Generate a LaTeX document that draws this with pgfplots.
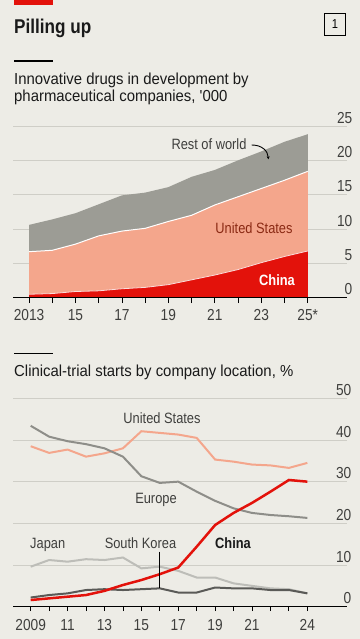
\documentclass[border=0pt]{standalone}
\usepackage{fontspec}
\setmainfont{Liberation Sans}[FakeStretch=0.86]
\newfontfamily\subfont{Liberation Sans}[FakeStretch=0.935]
\usepackage{pgfplots}
\pgfplotsset{compat=1.18}
\usepackage{pgfplotstable}
\usetikzlibrary{arrows.meta}
\definecolor{bg}{HTML}{EDECE6}
\definecolor{gridc}{HTML}{CFCEC7}
\definecolor{rowc}{HTML}{9C9C95}
\definecolor{usc}{HTML}{F4A68C}
\definecolor{chc}{HTML}{E3120B}
\definecolor{euc}{HTML}{8E8E89}
\definecolor{jpc}{HTML}{BDBDB8}
\definecolor{skc}{HTML}{5A5A57}
\definecolor{usdark}{HTML}{8B2A14}
\definecolor{labc}{HTML}{3F3F3D}
\definecolor{txt}{HTML}{1A1A1A}

\pgfplotstableread{
year china us total
2013 0.5 6.7 10.6
2014 0.6 6.9 11.4
2015 0.9 7.8 12.3
2016 1.0 9.0 13.6
2017 1.3 9.7 14.9
2018 1.5 10.1 15.3
2019 1.9 11.1 16.1
2020 2.6 12.0 17.6
2021 3.3 13.5 18.6
2022 4.1 14.7 20.0
2023 5.1 15.9 21.3
2024 6.0 17.1 22.7
2025 6.8 18.4 23.8
}\drugs

\pgfplotstableread{
year china us europe japan korea
2009 1.6 38.5 43.4 9.6 2.2
2010 2.0 36.9 40.8 11.2 2.8
2011 2.4 37.7 39.7 10.8 3.2
2012 2.8 36.0 39.0 11.4 4.0
2013 3.8 36.8 38.0 11.2 4.2
2014 5.2 38.0 36.0 11.8 4.0
2015 6.4 42.1 31.3 9.2 4.2
2016 7.8 41.7 29.7 9.6 4.4
2017 9.4 41.3 30.0 8.6 3.4
2018 14.4 40.5 27.6 7.0 3.4
2019 19.6 35.3 25.4 7.0 4.6
2020 22.5 34.8 23.6 5.6 4.4
2021 24.9 34.1 22.5 5.0 4.4
2022 27.6 33.9 22.0 4.4 4.0
2023 30.4 33.3 21.7 4.2 4.0
2024 30.0 34.5 21.3 3.2 3.2
}\trials

\begin{document}
\begin{tikzpicture}
\path[use as bounding box, fill=bg] (0,0) rectangle (360bp,639bp);
% header
\fill[chc] (14bp,634bp) rectangle (53bp,639bp);
\node[anchor=base west, inner sep=0pt, text=txt, font=\fontsize{20}{20}\selectfont\bfseries] at (14bp,605.7bp) {Pilling up};
\draw[line width=0.8bp] (324.3bp,603.3bp) rectangle (345.7bp,625.7bp);
\node[font=\fontsize{13}{13}\selectfont] at (335bp,614.5bp) {1};
\draw[line width=1.3bp] (14bp,578bp) -- (53bp,578bp);
\node[anchor=base west, inner sep=0pt, text=txt, font=\fontsize{16}{16}\subfont] at (14bp,554bp) {Innovative drugs in development by};
\node[anchor=base west, inner sep=0pt, text=txt, font=\fontsize{16}{16}\subfont] at (14bp,537.3bp) {pharmaceutical companies, '000};

\begin{axis}[
 at={(13bp,341.3bp)}, anchor=south west,
 width=334bp, height=171.7bp, scale only axis,
 xmin=2012.31, xmax=2026.69, ymin=0, ymax=25,
 axis x line*=bottom, axis y line*=right,
 y axis line style={draw=none}, x axis line style={draw=none},
 ytick={0,5,...,25}, ymajorgrids, grid style={gridc, line width=0.8bp},
 ytick style={draw=none},
 yticklabel style={anchor=south east, inner sep=0pt, yshift=2.5bp, text=labc, font=\fontsize{16}{16}\selectfont},
 xtick={2013,...,2025}, xticklabels={2013,,15,,17,,19,,21,,23,,25*},
 tick align=outside, major tick length=5.5bp, xtick style={black, line width=0.8bp},
 xticklabel style={font=\fontsize{16}{16}\selectfont, text=labc, inner sep=0pt, anchor=base, yshift=-17.5bp},
 /pgf/number format/assume math mode=true,
 clip=false,
]
\addplot[fill=rowc, draw=none] table[x=year,y=total]{\drugs} \closedcycle;
\addplot[fill=usc, draw=none] table[x=year,y=us]{\drugs} \closedcycle;
\addplot[white, line width=1bp] table[x=year,y=us]{\drugs};
\addplot[fill=chc, draw=none] table[x=year,y=china]{\drugs} \closedcycle;
\addplot[white!85!chc, line width=0.8bp] table[x=year,y=china]{\drugs};
\draw[black, line width=1.2bp] (rel axis cs:0,0) -- (rel axis cs:1,0);
\end{axis}

\node[anchor=base, inner sep=0pt, font=\fontsize{15}{15}\selectfont, text=labc] at (209bp,489.7bp) {Rest of world};
\draw[line width=0.9bp, -{Stealth[length=3bp,width=3bp]}] (251.7bp,494bp) .. controls (262bp,494bp) and (268bp,488bp) .. (268.3bp,479.7bp);
\node[anchor=base, inner sep=0pt, font=\fontsize{15}{15}\selectfont, text=usdark] at (254bp,405bp) {United States};
\node[anchor=base, inner sep=0pt, font=\fontsize{15}{15}\selectfont\bfseries, text=white] at (277bp,353bp) {China};

% second chart
\draw[line width=1.3bp] (14bp,285.7bp) -- (53bp,285.7bp);
\node[anchor=base west, inner sep=0pt, text=txt, font=\fontsize{16}{16}\subfont] at (14bp,262.3bp) {Clinical-trial starts by company location, \%};

\begin{axis}[
 at={(13bp,32.3bp)}, anchor=south west,
 width=334bp, height=208.4bp, scale only axis,
 xmin=2008.04, xmax=2026.15, ymin=0, ymax=50,
 axis x line*=bottom, axis y line*=right,
 y axis line style={draw=none}, x axis line style={draw=none},
 ytick={0,10,...,50}, ymajorgrids, grid style={gridc, line width=0.8bp},
 ytick style={draw=none},
 yticklabel style={anchor=south east, inner sep=0pt, yshift=2.5bp, text=labc, font=\fontsize{16}{16}\selectfont},
 xtick={2009,...,2024}, xticklabels={2009,,11,,13,,15,,17,,19,,21,,,24},
 tick align=outside, major tick length=4.5bp, xtick style={black, line width=0.8bp},
 xticklabel style={font=\fontsize{16}{16}\selectfont, text=labc, inner sep=0pt, anchor=base, yshift=-19.5bp},
 /pgf/number format/assume math mode=true,
 clip=false,
]
\addplot[jpc, line width=2bp] table[x=year,y=japan]{\trials};
\addplot[usc, line width=2bp] table[x=year,y=us]{\trials};
\addplot[euc, line width=2bp] table[x=year,y=europe]{\trials};
\addplot[skc, line width=2bp] table[x=year,y=korea]{\trials};
\addplot[chc, line width=2.5bp] table[x=year,y=china]{\trials};
\draw[black, line width=0.8bp] (axis cs:2016,13.2) -- (axis cs:2016,4.4);
\draw[black, line width=1.2bp] (rel axis cs:0,0) -- (rel axis cs:1,0);
\end{axis}

\node[anchor=base, inner sep=0pt, font=\fontsize{15}{15}\selectfont, text=labc] at (162bp,215.7bp) {United States};
\node[anchor=base, inner sep=0pt, font=\fontsize{15}{15}\selectfont, text=labc] at (156bp,135bp) {Europe};
\node[anchor=base west, inner sep=0pt, font=\fontsize{15}{15}\selectfont, text=labc] at (30bp,90.7bp) {Japan};
\node[anchor=base, inner sep=0pt, font=\fontsize{15}{15}\selectfont, text=labc] at (140.5bp,90.7bp) {South Korea};
\node[anchor=base, inner sep=0pt, font=\fontsize{15}{15}\selectfont\bfseries, text=txt] at (233bp,90bp) {China};
\end{tikzpicture}
\end{document}
